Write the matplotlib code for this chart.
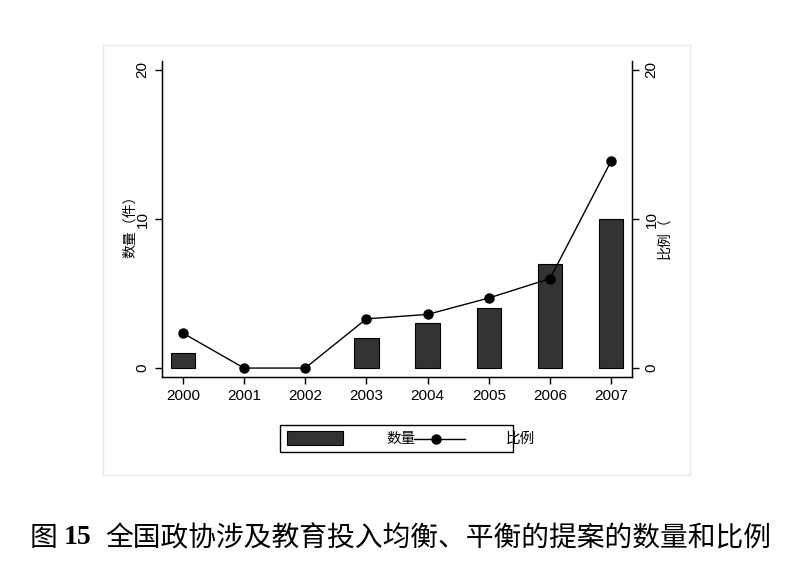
import matplotlib
matplotlib.use("Agg")
import matplotlib.pyplot as plt
from matplotlib.patches import Rectangle
from matplotlib.lines import Line2D

plt.rcParams['font.family'] = ['Liberation Sans', 'Noto Sans CJK SC', 'DejaVu Sans']

years = ['2000', '2001', '2002', '2003', '2004', '2005', '2006', '2007']
counts = [1, 0, 0, 2, 3, 4, 7, 10]
ratios = [2.35, 0.0, 0.0, 3.3, 3.6, 4.7, 6.0, 13.9]
yticks = [0, 10, 20]

W, H = 809, 572
fig = plt.figure(figsize=(W / 100, H / 100), dpi=100)
fig.patch.set_facecolor('white')

def fx(px):
    return px / W

def fy(py):
    return 1 - py / H

# light frame around graph region
fig.add_artist(Rectangle((fx(103), fy(475)), fx(690) - fx(103), fy(45) - fy(475),
                         transform=fig.transFigure, fill=False, edgecolor='#e4eaec', lw=1))

ax = fig.add_axes([fx(162), fy(377), fx(632) - fx(162), fy(61) - fy(377)])
x = list(range(len(years)))
ax.bar(x, counts, width=0.4, color='#333333', edgecolor='black',
       linewidth=[0.8 if c > 0 else 0 for c in counts], zorder=2)
ax.plot(x, ratios, color='black', lw=1, marker='o', markersize=6.5, zorder=3)

ax.set_xlim(-0.34, len(years) - 1 + 0.34)
ax.set_ylim(-0.6, 20.6)
ax.set_xticks(x)
ax.set_xticklabels(years, fontsize=11)
ax.set_yticks(yticks)
ax.set_yticklabels([str(v) for v in yticks], rotation=90, va='center', fontsize=11)
ax.spines['top'].set_visible(False)
for s in ['left', 'right', 'bottom']:
    ax.spines[s].set_linewidth(1)
ax.tick_params(axis='both', direction='out', length=5, width=1, pad=4)

ax2 = ax.twinx()
ax2.set_ylim(ax.get_ylim())
ax2.set_yticks(yticks)
ax2.set_yticklabels([str(v) for v in yticks], rotation=90, va='center', fontsize=11)
ax2.spines['top'].set_visible(False)
ax2.tick_params(axis='y', direction='out', length=5, width=1, pad=4)

fig.text(fx(130), fy(223), '数量（件）', rotation=90, ha='center', va='center', fontsize=10,
         fontweight='medium')
fig.text(fx(664), fy(217), '比例（', rotation=90, ha='center', va='top', fontsize=10,
         fontweight='medium')

# legend
fig.add_artist(Rectangle((fx(280), fy(452)), fx(513) - fx(280), fy(425) - fy(452),
                         transform=fig.transFigure, fill=False, edgecolor='black', lw=1))
fig.add_artist(Rectangle((fx(287), fy(445)), fx(343) - fx(287), fy(431) - fy(445),
                         transform=fig.transFigure, facecolor='#333333', edgecolor='black', lw=0.8))
fig.text(fx(386), fy(438.5), '数量', ha='left', va='center', fontsize=10.5, fontweight='medium')
fig.add_artist(Line2D([fx(414), fx(465)], [fy(438.5), fy(438.5)], transform=fig.transFigure,
                      color='black', lw=1))
fig.add_artist(Line2D([fx(435.5)], [fy(438.5)], transform=fig.transFigure, color='black',
                      marker='o', markersize=6.5, lw=0))
fig.text(fx(506), fy(438.5), '比例', ha='left', va='center', fontsize=10.5, fontweight='medium')

# caption
cap_y = fy(538)
fig.text(fx(30), cap_y, '图', ha='left', va='center', fontsize=20,
         family=['Noto Sans CJK SC'], fontweight='medium')
fig.text(fx(64), cap_y, '15', ha='left', va='center', fontsize=20, fontweight='bold',
         family=['Liberation Serif'])
fig.text(fx(105), cap_y, '全国政协涉及教育投入均衡、平衡的提案的数量和比例', ha='left', va='center',
         fontsize=20, family=['Noto Sans CJK SC'], fontweight='medium')

fig.savefig('out.png', dpi=100, facecolor='white')
